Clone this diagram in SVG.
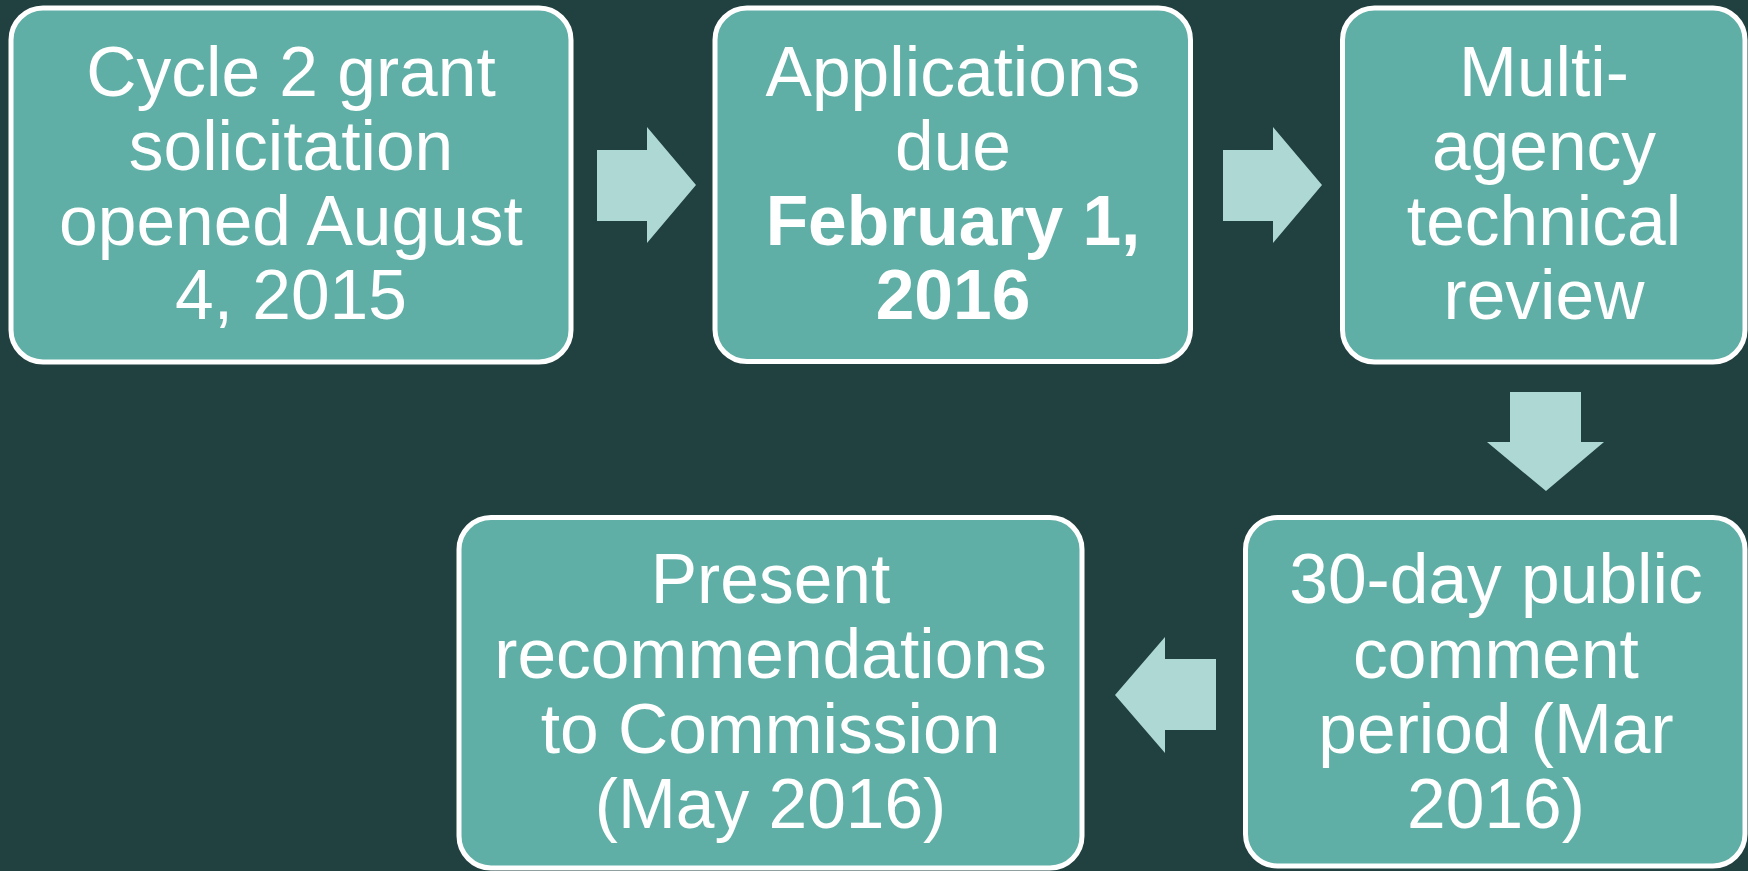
<svg xmlns="http://www.w3.org/2000/svg" width="1748" height="871" viewBox="0 0 1748 871">
<style>
.box{fill:#5FAFA6;stroke:#FFFFFF;stroke-width:5}
.arr{fill:#ADD8D4}
.t{font-family:"Liberation Sans",Arial,sans-serif;font-size:69.5px;fill:#FFFFFF;text-anchor:middle}
.b{font-weight:bold}
</style>
<rect width="1748" height="871" fill="#214040"/>
<g id="connectors">
<polygon class="arr" points="597,150 647,150 647,127 696,185 647,243 647,221 597,221"/>
<polygon class="arr" points="1223,150 1273,150 1273,127 1322,185 1273,243 1273,221 1223,221"/>
<polygon class="arr" points="1510,392 1581,392 1581,442 1604,442 1546,491 1487,442 1510,442"/>
<polygon class="arr" points="1216,659 1165,659 1165,637 1115,695 1165,753 1165,730 1216,730"/>
</g>
<g id="node1">
<rect class="box" x="11" y="8" width="560" height="354" rx="32"/>
<text class="t"><tspan x="291" y="96">Cycle 2 grant</tspan><tspan x="291" y="170">solicitation</tspan><tspan x="291" y="245">opened August</tspan><tspan x="291" y="319">4, 2015</tspan></text>
</g>
<g id="node2">
<rect class="box" x="715" y="8" width="475.5" height="353.5" rx="32"/>
<text class="t"><tspan x="953" y="96">Applications</tspan><tspan x="953" y="170">due</tspan><tspan class="b" x="953" y="245">February 1,</tspan><tspan class="b" x="953" y="319">2016</tspan></text>
</g>
<g id="node3">
<rect class="box" x="1342.5" y="8" width="402.5" height="354" rx="32"/>
<text class="t"><tspan x="1544" y="96">Multi-</tspan><tspan x="1544" y="170">agency</tspan><tspan x="1544" y="245">technical</tspan><tspan x="1544" y="319">review</tspan></text>
</g>
<g id="node4">
<rect class="box" x="1245.5" y="517.5" width="499.5" height="348.5" rx="32"/>
<text class="t"><tspan x="1496" y="603">30-day public</tspan><tspan x="1496" y="678">comment</tspan><tspan x="1496" y="753">period (Mar</tspan><tspan x="1496" y="828">2016)</tspan></text>
</g>
<g id="node5">
<rect class="box" x="459" y="517.5" width="623" height="350.5" rx="32"/>
<text class="t"><tspan x="770.5" y="603">Present</tspan><tspan x="770.5" y="678">recommendations</tspan><tspan x="770.5" y="753">to Commission</tspan><tspan x="770.5" y="828">(May 2016)</tspan></text>
</g>
</svg>
